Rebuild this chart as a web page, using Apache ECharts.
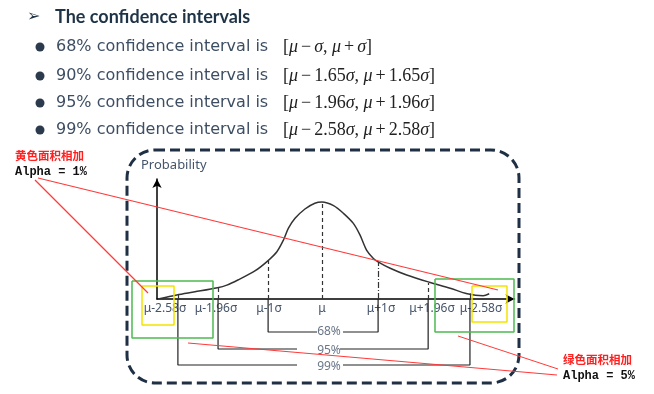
<!DOCTYPE html>
<html><head><meta charset="utf-8">
<script src="https://cdn.jsdelivr.net/npm/echarts@6/dist/echarts.min.js"></script>
<style>html,body{margin:0;padding:0;background:#fff}#c{width:654px;height:394px}</style>
</head><body><div id="c"></div>
<script>
// ---- data ----
const intervalPct = ['68%', '90%', '95%', '99%'];
const intervalZ = ['', '1.65', '1.96', '2.58'];
const curveX = [-2.98, -2.64, -2.31, -1.90, -1.73, -1.53, -1.22, -0.99, -0.82, -0.70, -0.61, -0.49, -0.31, -0.13, 0, 0.21, 0.39, 0.57, 0.69, 0.81, 0.93, 1.02, 1.24, 1.54, 1.95, 2.33, 2.64, 2.93, 3.04];
const curveY = [0, 0.017, 0.030, 0.047, 0.058, 0.079, 0.117, 0.158, 0.197, 0.246, 0.295, 0.336, 0.375, 0.399, 0.404, 0.389, 0.357, 0.315, 0.267, 0.204, 0.170, 0.155, 0.128, 0.100, 0.070, 0.045, 0.022, 0.014, 0.022];
const tickPos = [-2.62, -1.89, -0.98, 0, 1.02, 1.93, 2.69];
const tickTop = [0.017, 0.05, 0.158, 0.404, 0.156, 0.067, 0.023];
const tickLabels = ['μ-2.58σ', 'μ-1.96σ', 'μ-1σ', 'μ', 'μ+1σ', 'μ+1.96σ', 'μ-2.58σ'];
const labelPos = [-2.855, -1.927, -0.964, 0, 1.073, 2.0, 2.891];
const bracketPct = ['68%', '95%', '99%'];
const bracketLo = [-0.98, -1.89, -2.62];
const bracketHi = [1.02, 1.93, 2.69];
const bracketLevel = [-0.1375, -0.2083, -0.275];
const greenBoxes = [[-3.4545, 0.075, -1.9818, -0.1625], [2.0545, 0.0833, 3.4909, -0.1375]];
const yellowBoxes = [[-3.2727, 0.0542, -2.6909, -0.1083], [2.7273, 0.0542, 3.3636, -0.0958]];
const calloutLeft = ['黄色面积相加', 'Alpha = 1%'];
const calloutRight = ['绿色面积相加', 'Alpha = 5%'];

const chart = echarts.init(document.getElementById('c'), null, {renderer: 'canvas'});
const gray = '#44546a';

const tickStyles = ['solid', [4, 3], [4, 3], [4, 3], [6, 2, 1, 2], [4, 3], 'solid'];
const markData = tickPos.map((x, i) => [
  {coord: [x, 0], lineStyle: {type: tickStyles[i], color: '#333', width: 1.2}},
  {coord: [x, tickTop[i]]}
]);

const gapLeft = [-0.091, -0.4545, -0.4545];
const gapRight = [0.382, 0.327, 0.382];
const bracketSeries = bracketPct.map((p, i) => ({
  type: 'line', clip: false, symbol: 'none', silent: true,
  lineStyle: {color: '#222', width: 1.2},
  data: [[bracketLo[i], 0], [bracketLo[i], bracketLevel[i]], [gapLeft[i], bracketLevel[i]]]
})).concat(bracketPct.map((p, i) => ({
  type: 'line', clip: false, symbol: 'none', silent: true,
  lineStyle: {color: '#222', width: 1.2},
  data: [[gapRight[i], bracketLevel[i]], [bracketHi[i], bracketLevel[i]], [bracketHi[i], 0]]
})));

// boxes live on a hidden grid sharing the same scale but a wider x range
function boxSeries(b, color) {
  return {
    type: 'line', clip: false, symbol: 'none', silent: true, z: 5,
    xAxisIndex: 1, yAxisIndex: 1,
    lineStyle: {color: color, width: 1.5},
    data: [[b[0], b[1]], [b[2], b[1]], [b[2], b[3]], [b[0], b[3]], [b[0], b[1]]]
  };
}

const pctLabels = {
  type: 'scatter', clip: false, symbolSize: 1, silent: true,
  itemStyle: {color: 'rgba(0,0,0,0)'},
  data: bracketPct.map((p, i) => ({value: [0.127, bracketLevel[i] - (i ? 0.008 : 0)], name: p})),
  label: {show: true, position: 'inside', formatter: d => d.name, color: gray, fontSize: 12, fontFamily: 'Noto Sans'}
};

// top text
const textColor = '#3d4e63';
const rows = intervalPct.map((p, i) => {
  const y = [47, 76, 103, 130][i];
  const z = intervalZ[i];
  return [
    {type: 'circle', shape: {cx: 40, cy: y, r: 4.5}, style: {fill: '#2b3a4d'}},
    {type: 'text', x: 56, y: y, style: {text: p + ' confidence interval is', fill: textColor, font: '16px "DejaVu Sans"', verticalAlign: 'middle'}},
    {type: 'text', x: 283, y: y, style: {
      text: '{n|[}{i|μ}{o|−}{n|' + z + '}{i|σ}{n|, }{i|μ}{o|+}{n|' + z + '}{i|σ}{n|]}',
      verticalAlign: 'middle',
      rich: {
        n: {font: '18px "Liberation Serif"', fill: '#222'},
        o: {font: '18px "Liberation Serif"', fill: '#222', padding: [0, 3]},
        i: {font: 'italic 18px "Liberation Serif"', fill: '#222'}
      }
    }}
  ];
}).flat();

const red = '#ff3a3a';
const graphics = [
  {type: 'rect', z: 1, shape: {x: 127, y: 150, width: 392, height: 233, r: 28},
   style: {fill: 'none', stroke: '#1f2f44', lineWidth: 3, lineDash: [10, 5]}},
  {type: 'text', x: 27, y: 17, style: {text: '➢', fill: '#1f3347', font: '16px "DejaVu Sans"', verticalAlign: 'middle'}},
  {type: 'text', x: 55, y: 17, style: {text: 'The confidence intervals', fill: '#1f3347', font: 'bold 18px Lato', verticalAlign: 'middle'}},
  {type: 'text', x: 141, y: 165, style: {text: 'Probability', fill: gray, font: '13px "Noto Sans"', verticalAlign: 'middle'}},
  {type: 'text', x: 15, y: 156, style: {text: calloutLeft[0], fill: '#ff2020', font: 'bold 11.5px "Noto Sans CJK SC"', verticalAlign: 'middle'}},
  {type: 'text', x: 15, y: 172, style: {text: calloutLeft[1], fill: '#111', font: 'bold 12px "Liberation Mono"', verticalAlign: 'middle'}},
  {type: 'text', x: 563, y: 360, style: {text: calloutRight[0], fill: '#ff2020', font: 'bold 11.5px "Noto Sans CJK SC"', verticalAlign: 'middle'}},
  {type: 'text', x: 563, y: 376, style: {text: calloutRight[1], fill: '#111', font: 'bold 12px "Liberation Mono"', verticalAlign: 'middle'}},
  {type: 'line', z: 100, shape: {x1: 38, y1: 178, x2: 498, y2: 290}, style: {stroke: red, lineWidth: 1.2}},
  {type: 'line', z: 100, shape: {x1: 35, y1: 180, x2: 148, y2: 293}, style: {stroke: red, lineWidth: 1.2}},
  {type: 'line', z: 100, shape: {x1: 558, y1: 369, x2: 458, y2: 336}, style: {stroke: red, lineWidth: 1}},
  {type: 'line', z: 100, shape: {x1: 557, y1: 375, x2: 188, y2: 343}, style: {stroke: red, lineWidth: 1.2}}
].concat(rows);

chart.setOption({
  animation: false,
  grid: [
    {left: 157, top: 179, right: 139.5, bottom: 95},
    {left: 124, top: 179, right: 139.5, bottom: 95}
  ],
  xAxis: [{
    type: 'value', min: -3, max: 3.5, gridIndex: 0,
    axisLine: {onZero: false, lineStyle: {color: '#000', width: 1.5}, symbol: ['none', 'arrow'], symbolSize: [7, 9]},
    axisTick: {show: false}, splitLine: {show: false},
    axisLabel: {
      customValues: labelPos, margin: 4, color: gray, fontSize: 12, fontFamily: 'Noto Sans',
      formatter: v => {
        let k = 0, best = 1e9;
        labelPos.forEach((p, i) => { if (Math.abs(p - v) < best) { best = Math.abs(p - v); k = i; } });
        return tickLabels[k];
      }
    }
  }, {
    type: 'value', min: -3.6, max: 3.5, gridIndex: 1, show: false
  }],
  yAxis: [{
    type: 'value', min: 0, max: 0.5, gridIndex: 0,
    axisLine: {show: true, onZero: false, lineStyle: {color: '#000', width: 1.5}, symbol: ['none', 'arrow'], symbolSize: [7, 9]},
    axisTick: {show: false}, splitLine: {show: false}, axisLabel: {show: false}
  }, {
    type: 'value', min: 0, max: 0.5, gridIndex: 1, show: false
  }],
  graphic: graphics,
  series: [
    {
      type: 'line', smooth: 0.3, symbol: 'none', silent: true, z: 3,
      lineStyle: {color: '#333', width: 1.5},
      data: curveX.map((x, i) => [x, curveY[i]]),
      markLine: {silent: true, symbol: 'none', label: {show: false}, animation: false, data: markData}
    },
    boxSeries(greenBoxes[0], '#4cbb50'), boxSeries(greenBoxes[1], '#4cbb50'),
    boxSeries(yellowBoxes[0], '#f5e400'), boxSeries(yellowBoxes[1], '#f5e400'),
    pctLabels
  ].concat(bracketSeries)
});
</script></body></html>
